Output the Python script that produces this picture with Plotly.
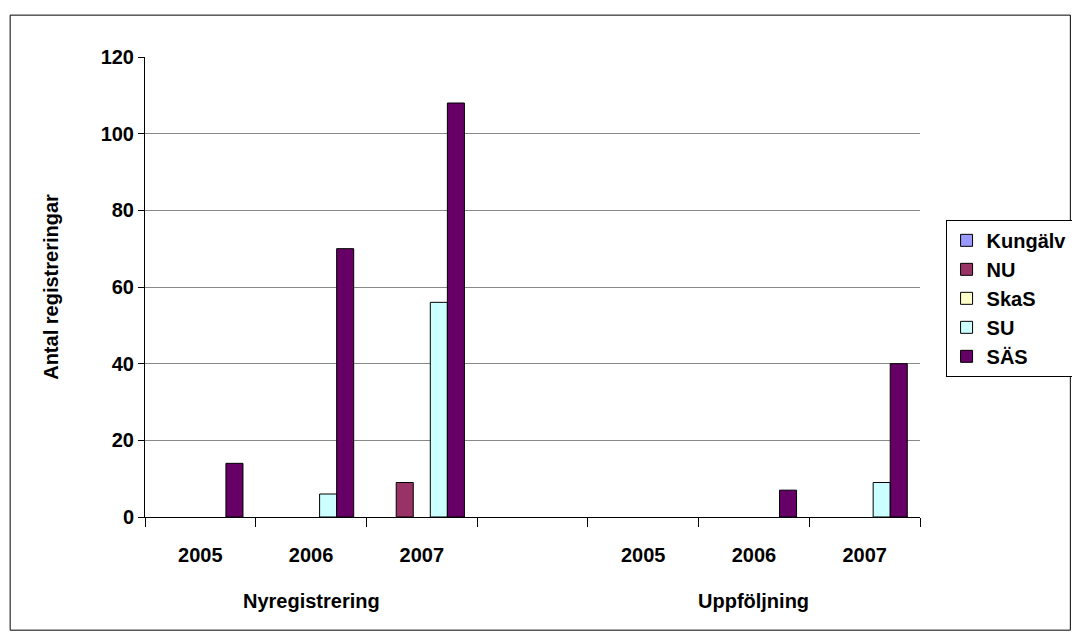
import plotly.graph_objects as go

years = ["2005", "2006", "2007", "", "2005", "2006", "2007"]
groups = ["Nyregistrering", "Uppföljning"]
series = ["Kungälv", "NU", "SkaS", "SU", "SÄS"]
colors = ["#9999FF", "#993366", "#FFFFCC", "#CCFFFF", "#660066"]
values = {
    "Kungälv": [None, None, None, None, None, None, None],
    "NU":      [None, None, 9, None, None, None, None],
    "SkaS":    [None, None, None, None, None, None, None],
    "SU":      [None, 6, 56, None, None, None, 9],
    "SÄS":     [14, 70, 108, None, None, 7, 40],
}

x = list(range(len(years)))
fig = go.Figure()
for s, c in zip(series, colors):
    fig.add_trace(go.Bar(x=x, y=values[s], name=f"<b>{s}</b>",
                         marker=dict(color=c, line=dict(color="black", width=1))))

font = dict(family="Liberation Sans, Arial", size=20, color="black")
fig.update_layout(
    width=1080, height=639, barmode="group", bargap=0.23, bargroupgap=0,
    plot_bgcolor="white", paper_bgcolor="white",
    margin=dict(l=137, r=168, t=49, b=130, autoexpand=False),
    font=font,
    xaxis=dict(range=[-0.5, 6.5], tickvals=x, ticktext=[f"<b>{y}</b>" for y in years],
               ticks="", showline=True, linecolor="black", showgrid=False, zeroline=False,
               ticklabelstandoff=20, automargin=False,
               minor=dict(tickvals=[i - 0.5 for i in range(8)], ticks="outside", ticklen=9,
                          tickcolor="black", showgrid=False)),
    yaxis=dict(range=[0, 120], dtick=20, showline=True, linecolor="black", ticks="outside", ticklen=6,
               tickcolor="black", gridcolor="#888888", gridwidth=1, zeroline=False, automargin=False,
               tickprefix="<b>", ticksuffix="</b>",
               title=dict(text="<b>Antal registreringar</b>", font=font, standoff=36)),
    legend=dict(x=1.033, y=0.646, xanchor="left", yanchor="top", bordercolor="black", borderwidth=1,
                font=font, traceorder="normal", tracegroupgap=0),
    showlegend=True,
)
for gx, g in zip([1, 5], groups):
    fig.add_annotation(x=gx, y=-0.21, xref="x", yref="paper", text=f"<b>{g}</b>",
                       showarrow=False, font=font)
fig.add_shape(type="rect", xref="paper", yref="paper", x0=-0.174, x1=1.194, y0=-0.246, y1=1.091,
              line=dict(color="black", width=1))
fig.write_html("out.html")
